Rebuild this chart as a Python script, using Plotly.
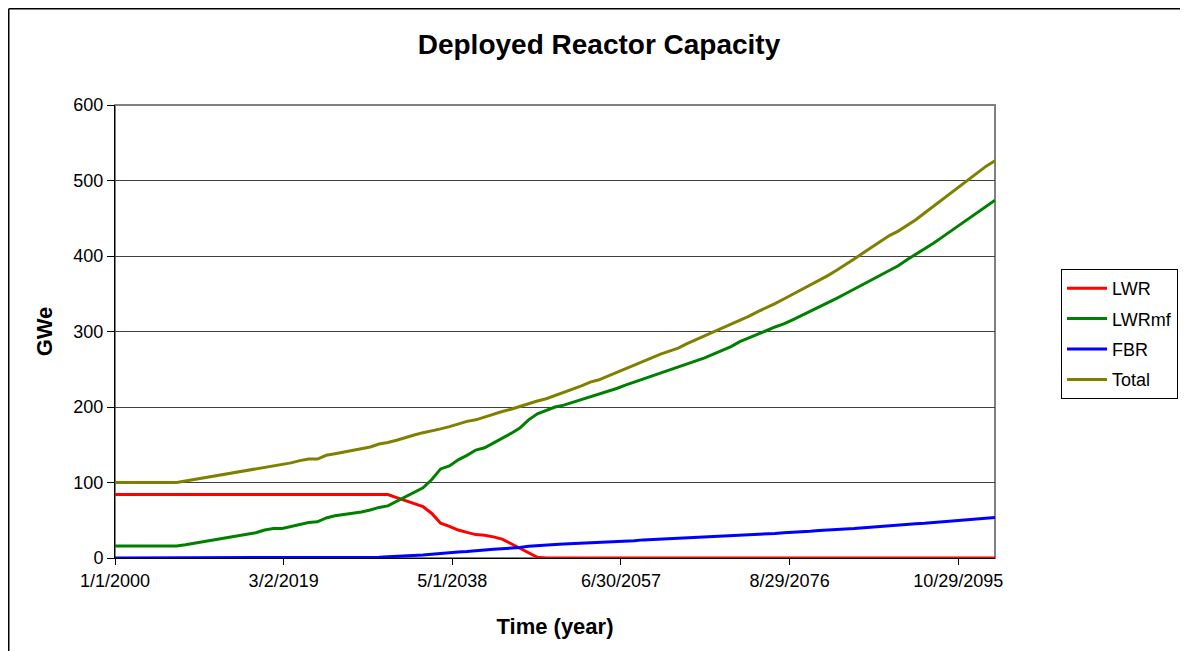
import plotly.graph_objects as go

# ---------------- data ----------------
years = list(range(2000, 2101))

lwr = [84] * 32 + [80, 76, 72, 68, 59, 46, 42, 37, 34, 31, 30, 28, 25, 19, 13, 7, 1] + [0] * 52

lwrmf = [16, 16, 16, 16, 16, 16, 16, 16, 17.5, 19.5,
         21.5, 23.5, 25.5, 27.5, 29.5, 31.5, 33.5, 37, 39, 39,
         41.5, 45, 47, 48, 53, 56, 57.5, 59, 61, 63.5,
         67, 69, 75, 80, 86, 93, 104, 118, 122, 130,
         136, 143, 146, 152, 158, 165, 172, 183, 191, 196,
         200, 202.5, 206, 210, 213.5, 216.5, 220.5, 224.5, 229, 233,
         237, 241, 244.5, 248, 252, 257, 261, 265, 270, 275,
         280, 286.5, 291, 296, 301, 306, 310, 315.5, 321, 326.5,
         332, 338, 344, 350, 356, 362, 368, 374, 380, 387,
         395, 402, 409, 417, 425, 433, 441, 449, 457, 466,
         474]

fbr = [0] * 28 + [1, 1, 1, 1.5, 2, 2, 3, 4, 5, 6,
                  7.5, 8, 8.5, 10, 10.5, 11.5, 12, 13, 14, 15.5,
                  16.5, 17, 18, 18.5, 19, 20, 20.5, 21, 21.5, 22,
                  22.5, 23, 24, 24.5, 25.5, 26, 27, 27, 27.5, 28,
                  29, 29.5, 30, 30.5, 31, 31.5, 32, 32.5, 33.5, 34,
                  34.5, 35.5, 36.5, 37.5, 38, 38.5, 39, 40, 40.5, 41.5,
                  42.5, 43.5, 44.5, 45.5, 46, 47, 47.5, 48.5, 49.5, 50.5,
                  51.5, 52.5, 53.5]

total = [100, 100, 100, 100, 100, 100, 100, 100, 102, 104,
         106, 108, 110, 112, 114, 116, 118, 120, 122, 124,
         126, 129, 131, 131, 136, 138, 140, 143, 145, 147,
         151, 153, 156, 159, 163, 166, 168, 171, 174, 178,
         181, 183, 187, 190, 194, 197, 201, 204, 208, 211,
         215, 219, 224, 228, 233, 236, 241, 246, 250, 255,
         260, 265, 270, 274, 278, 284, 289, 294, 299, 304,
         310, 315, 320, 326, 331, 337, 343, 349, 355, 361,
         368, 374, 381, 388, 396, 404, 412, 420, 427, 433,
         440, 448, 457, 466, 475, 484, 493, 502, 511, 519,
         526]

tick_dates = ["2000-01-01", "2019-03-02", "2038-05-01", "2057-06-30", "2076-08-29", "2095-10-29"]
tick_labels = ["1/1/2000", "3/2/2019", "5/1/2038", "6/30/2057", "8/29/2076", "10/29/2095"]

series_names = ["LWR", "LWRmf", "FBR", "Total"]
series_colors = ["#FF0000", "#008000", "#0000FF", "#808000"]

# ---------------- figure ----------------
dates = [f"{y}-01-01" for y in years]
FONT = "Liberation Sans, Arial, sans-serif"

fig = go.Figure()
for name, vals, col in zip(series_names, [lwr, lwrmf, fbr, total], series_colors):
    fig.add_trace(go.Scatter(x=dates, y=vals, mode="lines", name=name,
                             legendgroup=name,
                             line=dict(color=col, width=3)))

# page has an 8px body margin, so figure coords = page coords - 8
OFF = 8
W, H = 1188 - OFF, 651 - OFF
L, R, T, B = 115 - OFF, 995 - OFF, 105 - OFF, 558 - OFF

fig.update_layout(
    width=W, height=H,
    margin=dict(l=L, r=W - R, t=T, b=H - B, autoexpand=False),
    paper_bgcolor="white", plot_bgcolor="white",
    font=dict(family=FONT, color="black", size=18),
    title=dict(text="<b>Deployed Reactor Capacity</b>", x=(599 - OFF) / W, xanchor="center",
               y=1 - (44 - OFF) / H, yanchor="middle",
               font=dict(family=FONT, size=28, color="black")),
    showlegend=True,
    legend=dict(x=(1061 - OFF - L) / (R - L), y=(B - (269 - OFF)) / (B - T),
                xanchor="left", yanchor="top",
                bordercolor="black", borderwidth=1, bgcolor="white",
                font=dict(family=FONT, size=18, color="black"),
                tracegroupgap=4, itemwidth=40),
    xaxis=dict(type="date", range=["2000-01-01", "2100-01-01"],
               tickmode="array", tickvals=tick_dates, ticktext=tick_labels,
               showgrid=False, zeroline=False,
               showline=True, linecolor="black", linewidth=1,
               ticks="outside", ticklen=6, tickcolor="black",
               tickfont=dict(family=FONT, size=18),
               title=dict(text="<b>Time (year)</b>", font=dict(family=FONT, size=22), standoff=29),
               layer="below traces"),
    yaxis=dict(range=[0, 600], dtick=100, tick0=0,
               showgrid=True, gridcolor="#404040", gridwidth=1,
               zeroline=False,
               showline=True, linecolor="black", linewidth=1,
               ticks="outside", ticklen=7, tickcolor="black",
               tickfont=dict(family=FONT, size=18),
               title=dict(text="<b>GWe</b>", font=dict(family=FONT, size=22), standoff=14),
               layer="below traces"),
)

# plot-area border (gray) and chart-area border (black)
fig.add_shape(type="rect", xref="paper", yref="paper", x0=0, x1=1, y0=0, y1=1,
              line=dict(color="#808080", width=2), layer="below")
fig.add_shape(type="line", xref="paper", yref="paper",
              x0=(0.75 - L) / (R - L), x1=(W + 5 - L) / (R - L),
              y0=(B - 0.75) / (B - T), y1=(B - 0.75) / (B - T),
              line=dict(color="black", width=1.5))
fig.add_shape(type="line", xref="paper", yref="paper",
              x0=(0.75 - L) / (R - L), x1=(0.75 - L) / (R - L),
              y0=(B - 0.75) / (B - T), y1=(B - H - 5) / (B - T),
              line=dict(color="black", width=1.5))

fig.write_html("out.html")
